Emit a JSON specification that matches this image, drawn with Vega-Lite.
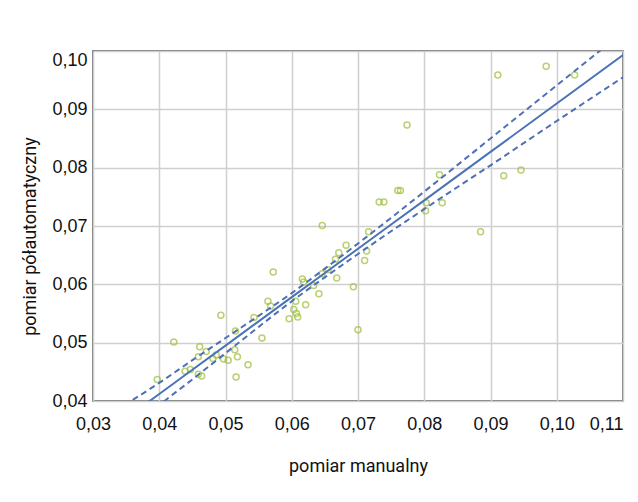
{
  "$schema": "https://vega.github.io/schema/vega-lite/v6.json",
  "autosize": {"type": "none"},
  "padding": {"left": 93, "top": 51, "right": 15, "bottom": 101},
  "width": 530,
  "height": 350,
  "background": "white",
  "config": {
    "view": {"stroke": "#4d4d4d", "strokeWidth": 1.5},
    "axis": {"labelFont": "Liberation Sans", "labelFontSize": 18, "labelColor": "#111", "titleFont": "Roboto", "titleFontSize": 18, "titleFontWeight": "normal", "titleColor": "#111", "gridColor": "#cfcfcf", "gridWidth": 1.5, "domain": false, "ticks": false}
  },
  "datasets": {
    "pts": [
      {"m": 0.0984, "p": 0.0974}, {"m": 0.0911, "p": 0.0959}, {"m": 0.1027, "p": 0.0959},
      {"m": 0.0774, "p": 0.0873}, {"m": 0.0823, "p": 0.0788}, {"m": 0.0920, "p": 0.0786},
      {"m": 0.0946, "p": 0.0796}, {"m": 0.0760, "p": 0.0761}, {"m": 0.0764, "p": 0.0761},
      {"m": 0.0732, "p": 0.0741}, {"m": 0.0739, "p": 0.0741}, {"m": 0.0803, "p": 0.0740},
      {"m": 0.0802, "p": 0.0726}, {"m": 0.0827, "p": 0.0740}, {"m": 0.0885, "p": 0.0690},
      {"m": 0.0710, "p": 0.0641}, {"m": 0.0713, "p": 0.0657}, {"m": 0.0693, "p": 0.0596},
      {"m": 0.0700, "p": 0.0522}, {"m": 0.0716, "p": 0.0690}, {"m": 0.0646, "p": 0.0701},
      {"m": 0.0572, "p": 0.0621}, {"m": 0.0682, "p": 0.0667}, {"m": 0.0671, "p": 0.0654},
      {"m": 0.0666, "p": 0.0643}, {"m": 0.0668, "p": 0.0611}, {"m": 0.0646, "p": 0.0618},
      {"m": 0.0616, "p": 0.0609}, {"m": 0.0618, "p": 0.0604}, {"m": 0.0641, "p": 0.0584},
      {"m": 0.0621, "p": 0.0565}, {"m": 0.0606, "p": 0.0571}, {"m": 0.0603, "p": 0.0557},
      {"m": 0.0607, "p": 0.0550}, {"m": 0.0609, "p": 0.0544}, {"m": 0.0596, "p": 0.0541},
      {"m": 0.0564, "p": 0.0571}, {"m": 0.0568, "p": 0.0563}, {"m": 0.0543, "p": 0.0543},
      {"m": 0.0555, "p": 0.0508}, {"m": 0.0515, "p": 0.0520}, {"m": 0.0493, "p": 0.0547},
      {"m": 0.0422, "p": 0.0501}, {"m": 0.0461, "p": 0.0493}, {"m": 0.0471, "p": 0.0485},
      {"m": 0.0486, "p": 0.0479}, {"m": 0.0497, "p": 0.0472}, {"m": 0.0504, "p": 0.0470},
      {"m": 0.0514, "p": 0.0488}, {"m": 0.0518, "p": 0.0476}, {"m": 0.0534, "p": 0.0462},
      {"m": 0.0516, "p": 0.0441}, {"m": 0.0459, "p": 0.0446}, {"m": 0.0464, "p": 0.0443},
      {"m": 0.0439, "p": 0.0451}, {"m": 0.0447, "p": 0.0454}, {"m": 0.0397, "p": 0.0437},
      {"m": 0.0481, "p": 0.0473}, {"m": 0.0459, "p": 0.0476}, {"m": 0.0633, "p": 0.0598},
      {"m": 0.0655, "p": 0.0625}
    ],
    "fit": [
      {"m": 0.036, "fit": 0.0379, "lo": 0.0356, "hi": 0.0402},
      {"m": 0.040, "fit": 0.0412, "lo": 0.0393, "hi": 0.0431},
      {"m": 0.045, "fit": 0.04535, "lo": 0.0437, "hi": 0.0470},
      {"m": 0.050, "fit": 0.0495, "lo": 0.0482, "hi": 0.0508},
      {"m": 0.055, "fit": 0.05365, "lo": 0.0527, "hi": 0.0546},
      {"m": 0.060, "fit": 0.0578, "lo": 0.0571, "hi": 0.0585},
      {"m": 0.065, "fit": 0.06195, "lo": 0.0612, "hi": 0.0627},
      {"m": 0.070, "fit": 0.0661, "lo": 0.0652, "hi": 0.0670},
      {"m": 0.075, "fit": 0.07025, "lo": 0.0691, "hi": 0.0714},
      {"m": 0.080, "fit": 0.0744, "lo": 0.0729, "hi": 0.0759},
      {"m": 0.090, "fit": 0.0827, "lo": 0.0804, "hi": 0.0850},
      {"m": 0.100, "fit": 0.0910, "lo": 0.0880, "hi": 0.0941},
      {"m": 0.110, "fit": 0.0993, "lo": 0.0955, "hi": 0.1032}
    ]
  },
  "layer": [
    {
      "data": {"name": "pts"},
      "mark": {"type": "point", "shape": "circle", "filled": false, "stroke": "#9dbd3a", "strokeWidth": 1.5, "size": 36, "clip": true},
      "encoding": {
        "x": {"field": "m", "type": "quantitative", "scale": {"domain": [0.03, 0.11], "nice": false, "zero": false},
          "axis": {"values": [0.03, 0.04, 0.05, 0.06, 0.07, 0.08, 0.09, 0.10, 0.11], "format": ".2f", "labelExpr": "replace(datum.label, '.', ',')", "labelPadding": 14,
            "labelAlign": {"condition": {"test": "datum.value > 0.1095", "value": "right"}, "value": "center"},
            "title": "pomiar manualny", "titleY": 65, "titleBaseline": "middle"}},
        "y": {"field": "p", "type": "quantitative", "scale": {"domain": [0.04, 0.10], "nice": false, "zero": false},
          "axis": {"values": [0.04, 0.05, 0.06, 0.07, 0.08, 0.09, 0.10], "format": ".2f", "labelExpr": "replace(datum.label, '.', ',')", "labelPadding": 6,
            "labelBaseline": {"condition": {"test": "datum.value > 0.0995", "value": "top"}, "value": "middle"},
            "title": "pomiar półautomatyczny", "titleX": -63, "titleY": 185, "titleBaseline": "middle", "titleAlign": "center", "titleAngle": -90}}
      }
    },
    {
      "data": {"name": "fit"},
      "mark": {"type": "line", "stroke": "#4a72b8", "strokeWidth": 2, "clip": true},
      "encoding": {"x": {"field": "m", "type": "quantitative"}, "y": {"field": "fit", "type": "quantitative"}}
    },
    {
      "data": {"name": "fit"},
      "mark": {"type": "line", "stroke": "#4f70b5", "strokeWidth": 2, "strokeDash": [6, 4], "clip": true, "interpolate": "monotone"},
      "encoding": {"x": {"field": "m", "type": "quantitative"}, "y": {"field": "lo", "type": "quantitative"}}
    },
    {
      "data": {"name": "fit"},
      "mark": {"type": "line", "stroke": "#4f70b5", "strokeWidth": 2, "strokeDash": [6, 4], "clip": true, "interpolate": "monotone"},
      "encoding": {"x": {"field": "m", "type": "quantitative"}, "y": {"field": "hi", "type": "quantitative"}}
    }
  ]
}
